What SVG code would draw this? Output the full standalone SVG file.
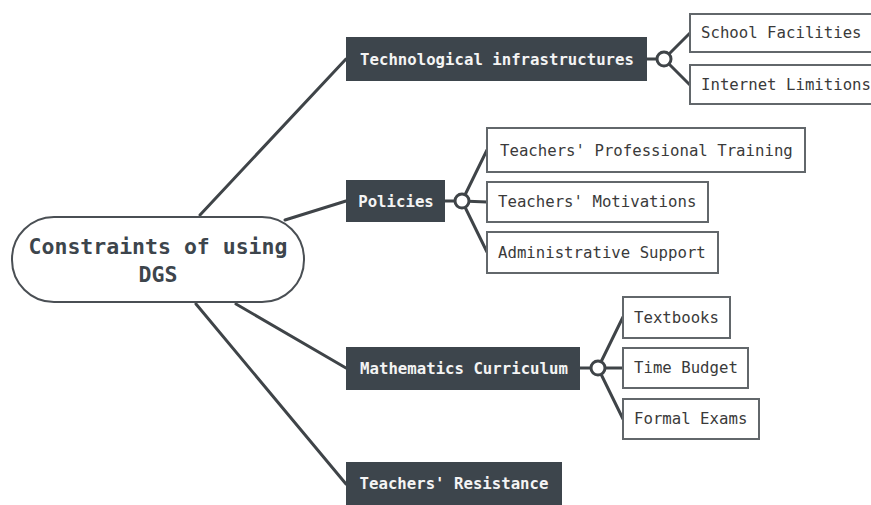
<svg xmlns="http://www.w3.org/2000/svg" width="871" height="505" viewBox="0 0 871 505">
<style>
.bg{fill:#ffffff}
.root{fill:#ffffff;stroke:#4a4f54;stroke-width:2}
.main{fill:#3d454c}
.sub{fill:#ffffff;stroke:#62676b;stroke-width:2}
.mt{font-family:"DejaVu Sans Mono","Liberation Mono",monospace;font-weight:bold;font-size:15.7px;fill:#f4f4f4}
.st{font-family:"DejaVu Sans Mono","Liberation Mono",monospace;font-size:15.7px;fill:#3a3a3a}
.rt{font-family:"DejaVu Sans Mono","Liberation Mono",monospace;font-weight:bold;font-size:21.5px;fill:#3d454c}
.ln{fill:none;stroke:#3f4448;stroke-width:3;stroke-linecap:round}
.knot{fill:#ffffff;stroke:#3f4448;stroke-width:3}
</style>
<rect class="bg" x="0" y="0" width="871" height="505"/>
<g id="connectors">
<path class="ln" d="M200 215 L346 59"/>
<path class="ln" d="M285 220 L346 201"/>
<path class="ln" d="M236 304 L346 368"/>
<path class="ln" d="M196 304 L346 484"/>
<path class="ln" d="M647 59 L657 59"/>
<path class="ln" d="M664 59 L690 33 M664 59 L690 85"/>
<path class="ln" d="M445 201 L455 201"/>
<path class="ln" d="M462 201 L487 150 M462 201 L487 202 M462 201 L487 252"/>
<path class="ln" d="M580 368 L591 368"/>
<path class="ln" d="M598 368 L623 317 M598 368 L623 368 M598 368 L623 419"/>
<circle class="knot" cx="664" cy="59" r="7"/>
<circle class="knot" cx="462" cy="201" r="7"/>
<circle class="knot" cx="598" cy="368" r="7"/>
</g>
<g id="root">
<rect class="root" x="12" y="217" width="292" height="85" rx="42" ry="42"/>
<text class="rt" x="158" y="254" text-anchor="middle">Constraints of using</text>
<text class="rt" x="158" y="282" text-anchor="middle">DGS</text>
</g>
<g id="tech">
<rect class="main" x="346" y="37" width="301" height="44"/>
<text class="mt" x="497" y="65" text-anchor="middle">Technological infrastructures</text>
</g>
<g id="school">
<rect class="sub" x="690" y="14" width="190" height="38"/>
<text class="st" x="701" y="38">School Facilities</text>
</g>
<g id="internet">
<rect class="sub" x="690" y="65" width="190" height="39"/>
<text class="st" x="701" y="90">Internet Limitions</text>
</g>
<g id="policies">
<rect class="main" x="346" y="180" width="99" height="42"/>
<text class="mt" x="396" y="207" text-anchor="middle">Policies</text>
</g>
<g id="training">
<rect class="sub" x="487" y="128" width="318" height="44"/>
<text class="st" x="500" y="156">Teachers' Professional Training</text>
</g>
<g id="motivations">
<rect class="sub" x="487" y="182" width="221" height="40"/>
<text class="st" x="498" y="207">Teachers' Motivations</text>
</g>
<g id="admin">
<rect class="sub" x="487" y="232" width="231" height="41"/>
<text class="st" x="498" y="258">Administrative Support</text>
</g>
<g id="math">
<rect class="main" x="346" y="347" width="234" height="43"/>
<text class="mt" x="464" y="374" text-anchor="middle">Mathematics Curriculum</text>
</g>
<g id="textbooks">
<rect class="sub" x="623" y="297" width="107" height="41"/>
<text class="st" x="634" y="323">Textbooks</text>
</g>
<g id="time">
<rect class="sub" x="623" y="348" width="125" height="40"/>
<text class="st" x="634" y="373">Time Budget</text>
</g>
<g id="exams">
<rect class="sub" x="623" y="399" width="136" height="40"/>
<text class="st" x="634" y="424">Formal Exams</text>
</g>
<g id="resistance">
<rect class="main" x="346" y="462" width="216" height="45"/>
<text class="mt" x="454" y="489" text-anchor="middle">Teachers' Resistance</text>
</g>
</svg>
